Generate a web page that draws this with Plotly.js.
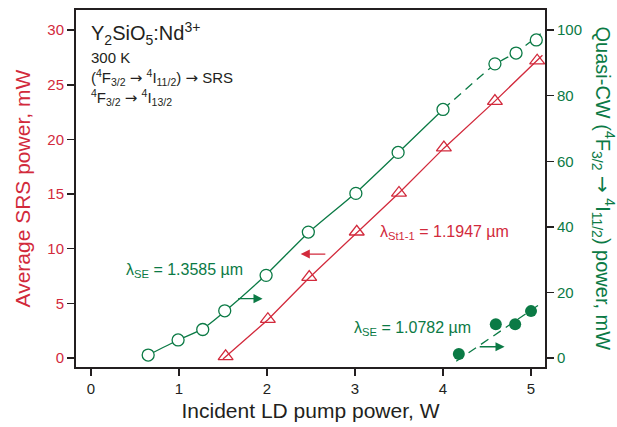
<!DOCTYPE html>
<html><head><meta charset="utf-8">
<script src="https://cdn.plot.ly/plotly-3.0.1.min.js"></script>
<style>html,body{margin:0;padding:0;background:#fff}#chart{width:617px;height:427px}</style>
</head><body><div id="chart"></div>
<script>
// SRS (λSt1-1 = 1.1947 µm), left axis, mW
const srsX = [1.53, 2.01, 2.48, 3.02, 3.50, 4.01, 4.59, 5.07];
const srsY = [0.15, 3.55, 7.4, 11.55, 15.1, 19.25, 23.5, 27.2];
const srsFitX = [1.50, 2.01, 2.48, 3.02, 3.50, 4.01, 4.59, 5.13];
const srsFitY = [-0.1, 3.5, 7.35, 11.5, 15.1, 19.2, 23.5, 27.7];
// Quasi-CW λSE = 1.3585 µm, right axis, mW
const qcwX = [0.65, 0.99, 1.27, 1.52, 1.99, 2.47, 3.01, 3.49, 4.00, 4.59, 4.83, 5.06];
const qcwY = [0.9, 5.5, 8.7, 14.4, 25.2, 38.4, 50.2, 62.7, 75.8, 89.7, 93.0, 97.0];
const qcwFitX = [0.65, 0.99, 1.27, 1.52, 1.99, 2.47, 3.01, 3.49, 4.00];
const qcwFitY = [0.9, 5.5, 8.9, 14.2, 25.4, 38.2, 50.4, 62.6, 75.8];
const qcwDashX = [4.00, 4.59, 4.83, 5.11];
const qcwDashY = [75.8, 89.5, 93.2, 98.9];
// Quasi-CW λSE = 1.0782 µm, right axis, mW
const seX = [4.18, 4.60, 4.82, 5.00];
const seY = [1.2, 10.3, 10.3, 14.3];
const seFitX = [4.15, 5.10];
const seFitY = [-1.0, 16.4];
const xTicks = [0, 1, 2, 3, 4, 5];
const yTicks = [0, 5, 10, 15, 20, 25, 30];
const y2Ticks = [0, 20, 40, 60, 80, 100];

const RED = '#d22a3c', GREEN = '#0b7a45', DARK = '#231f20';
const FONT = 'Liberation Sans, Arial, sans-serif';
const AR = '<span style="font-family:DejaVu Sans">\u2192</span>';

const traces = [
  {x: srsFitX, y: srsFitY, mode: 'lines', line: {color: RED, width: 1.3}, hoverinfo: 'skip'},
  {x: srsX, y: srsY, mode: 'markers', marker: {symbol: 'triangle-up-open', size: 13, color: RED, line: {width: 1.3}}},
  {x: qcwFitX, y: qcwFitY, yaxis: 'y2', mode: 'lines', line: {color: GREEN, width: 1.3, shape: 'spline', smoothing: 0.6}},
  {x: qcwDashX, y: qcwDashY, yaxis: 'y2', mode: 'lines', line: {color: GREEN, width: 1.3, dash: '9px,6px', shape: 'spline', smoothing: 0.6}},
  {x: qcwX, y: qcwY, yaxis: 'y2', mode: 'markers', marker: {symbol: 'circle', size: 12, color: '#fff', line: {color: GREEN, width: 1.3}}},
  {x: seFitX, y: seFitY, yaxis: 'y2', mode: 'lines', line: {color: GREEN, width: 1.3, dash: '9px,6px'}},
  {x: seX, y: seY, yaxis: 'y2', mode: 'markers', marker: {symbol: 'circle', size: 12, color: GREEN, line: {width: 0}}}
];

function arrow(x, y, ax, color, yref) {
  return {x: x, y: y, ax: ax, ay: y, xref: 'x', yref: yref, axref: 'x', ayref: yref,
    showarrow: true, arrowhead: 2, arrowsize: 1.4, arrowwidth: 1.3, arrowcolor: color, text: ''};
}
function txt(text, x, y, size, color, xanchor) {
  return {text: text, x: x, y: y, xref: 'x', yref: 'y', showarrow: false, xanchor: xanchor || 'left',
    yanchor: 'middle', font: {family: FONT, size: size, color: color}};
}

const layout = {
  width: 617, height: 427,
  margin: {l: 76, r: 72, t: 10, b: 60},
  paper_bgcolor: '#fff', plot_bgcolor: '#fff',
  showlegend: false,
  font: {family: FONT, color: DARK},
  xaxis: {range: [-0.17, 5.159], tickvals: xTicks, ticks: 'outside', ticklen: 7, tickwidth: 1.5,
    tickcolor: DARK, showline: true, linecolor: DARK, linewidth: 2, mirror: true, showgrid: false,
    zeroline: false, tickfont: {size: 15, color: DARK},
    title: {text: 'Incident LD pump power, W', font: {size: 21, color: DARK}, standoff: 7}},
  yaxis: {range: [-0.823, 31.84], tickvals: yTicks, ticks: 'outside', ticklen: 7, tickwidth: 1.5,
    tickcolor: DARK, showline: true, linecolor: DARK, linewidth: 2, showgrid: false, zeroline: false,
    tickfont: {size: 15, color: RED}},
  yaxis2: {range: [-2.743, 106.13], tickvals: y2Ticks, overlaying: 'y', side: 'right', ticks: 'outside',
    ticklen: 7, tickwidth: 1.5, tickcolor: DARK, showline: true, linecolor: DARK, linewidth: 2,
    showgrid: false, zeroline: false, tickfont: {size: 15, color: GREEN}},
  annotations: [
    {text: 'Average SRS power, mW', xref: 'paper', yref: 'paper', x: 0, y: 0.5, xshift: -54,
      textangle: -90, showarrow: false, xanchor: 'center', yanchor: 'middle', font: {family: FONT, size: 21, color: RED}},
    {text: 'Quasi-CW (<sup>4</sup>F<sub>3/2</sub> ' + AR + ' <sup>4</sup>I<sub>11/2</sub>) power, mW', xref: 'paper', yref: 'paper',
      x: 1, y: 0.5, xshift: 58, textangle: 90, showarrow: false, xanchor: 'center', yanchor: 'middle',
      font: {family: FONT, size: 20, color: GREEN}},
    txt('Y<sub>2</sub>SiO<sub>5</sub>:Nd<sup>3+</sup>', -0.02, 29.7, 20, DARK),
    txt('300 K', -0.02, 27.5, 15, DARK),
    txt('(<sup>4</sup>F<sub>3/2</sub> ' + AR + ' <sup>4</sup>I<sub>11/2</sub>) ' + AR + ' SRS', -0.02, 25.7, 15, DARK),
    txt('<sup>4</sup>F<sub>3/2</sub> ' + AR + ' <sup>4</sup>I<sub>13/2</sub>', -0.02, 23.8, 15, DARK),
    txt('\u03bb<sub>SE</sub> = 1.3585 \u00b5m', 0.38, 8.0, 16, GREEN),
    txt('\u03bb<sub>St1-1</sub> = 1.1947 \u00b5m', 3.26, 11.5, 16, RED),
    txt('\u03bb<sub>SE</sub> = 1.0782 \u00b5m', 2.97, 2.7, 16, GREEN),
    arrow(2.383, 9.51, 2.68, RED, 'y'),
    arrow(1.95, 18.1, 1.656, GREEN, 'y2'),
    arrow(4.70, 3.43, 4.40, GREEN, 'y2')
  ]
};
Plotly.newPlot('chart', traces, layout, {displayModeBar: false, staticPlot: true});
</script></body></html>
